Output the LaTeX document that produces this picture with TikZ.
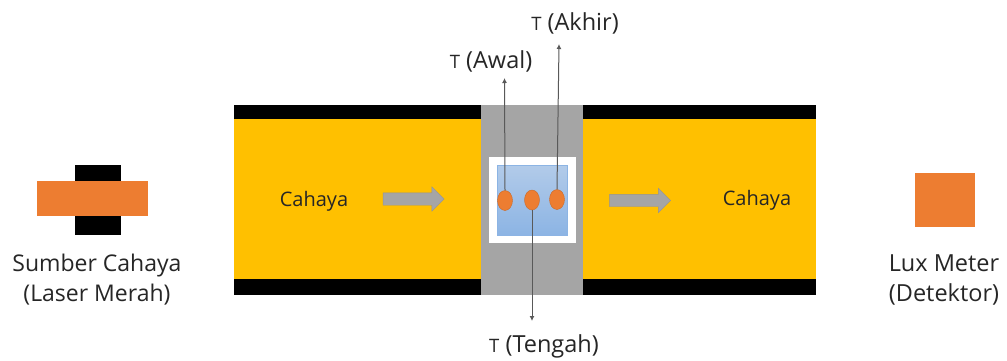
\documentclass[tikz,border=0pt]{standalone}
\usepackage{fontspec}
\setmainfont{Open Sans}
\usetikzlibrary{arrows.meta,shapes.geometric,shapes.arrows}
\definecolor{cyel}{HTML}{FFC000}
\definecolor{cora}{HTML}{ED7D31}
\definecolor{cgry}{HTML}{A5A5A5}
\definecolor{ctxt}{HTML}{262626}
\definecolor{bluetop}{RGB}{178,203,233}
\definecolor{bluebot}{RGB}{140,180,228}
\tikzset{
  box/.style={draw=none,inner sep=0pt,outer sep=0pt,rectangle},
  lbl/.style={inner sep=0pt,text=ctxt,font=\fontsize{23.5}{30}\selectfont,align=center},
  lblsrc/.style={inner sep=0pt,text=ctxt,font=\fontsize{23}{30}\selectfont,align=center},
  lbltwo/.style={inner sep=0pt,text=ctxt,font=\fontsize{20}{24}\selectfont,align=center},
  dot/.style={ellipse,fill=cora,draw=cora!85!black,line width=.4pt,minimum width=15pt,minimum height=20pt,inner sep=0pt},
  probe/.style={draw=black!65,line width=1pt,-{Latex[length=5pt,width=5pt]}},
  flow/.style={single arrow,fill=cgry,draw=cgry!90!black,line width=.4pt,single arrow head extend=6pt,minimum height=61pt,inner xsep=0pt,inner ysep=6pt,single arrow head indent=0pt}
}
\newcommand{\smallT}{{\fontsize{18.5}{24}\selectfont T}}
\begin{document}
\begin{tikzpicture}[x=1pt,y=-1pt]
\useasboundingbox (0,0) rectangle (1007,360);
\fill[white] (0,0) rectangle (1007,360);
% tube
\fill[black] (234,105) rectangle (816,295);
\fill[cyel] (234,119) rectangle (816,279);
\fill[cgry] (481,105) rectangle (583,295);
\fill[white] (489,157) rectangle (576,243);
\fill[top color=bluetop,bottom color=bluebot] (497,165) rectangle (567,235);
\draw[bluebot,line width=.6pt] (497,165) rectangle (567,235);
% source and detector
\node[box,fill=black,minimum width=46pt,minimum height=70pt] (srcb) at (98,200) {};
\node[box,fill=cora,minimum width=111pt,minimum height=35pt] (srco) at (92.5,198.5) {};
\node[box,fill=cora,minimum width=60pt,minimum height=54pt] (det) at (945,200) {};
% dots
\node[dot] (d1) at (505,200.5) {};
\node[dot] (d2) at (532,200) {};
\node[dot] (d3) at (557,199.5) {};
% flow arrows
\node[flow] (f1) at (410.5,199) {};
\node[flow] (f2) at (637,200.5) {};
% labels
\node[lbltwo] (c1) at (314,201) {Cahaya};
\node[lbltwo] (c2) at (757,200) {Cahaya};
\node[lblsrc] (src) at (97,280) {Sumber Cahaya\\(Laser Merah)};
\node[lbl] (dl) at (944,280) {Lux Meter\\(Detektor)};
\coordinate (e1) at (504.5,78);
\coordinate (e2) at (559,44);
\coordinate (e3) at (532,321);
\node[lbl] (t1) at (491,61) {\smallT{} (Awal)};
\node[lbl] (t2) at (575,23) {\smallT{} (Akhir)};
\node[lbl] (t3) at (544,346) {\smallT{} (Tengah)};
\draw[probe] (d1.north) -- (e1);
\draw[probe] (d3.north) -- (e2);
\draw[probe] (d2.south) -- (e3);
\end{tikzpicture}
\end{document}
